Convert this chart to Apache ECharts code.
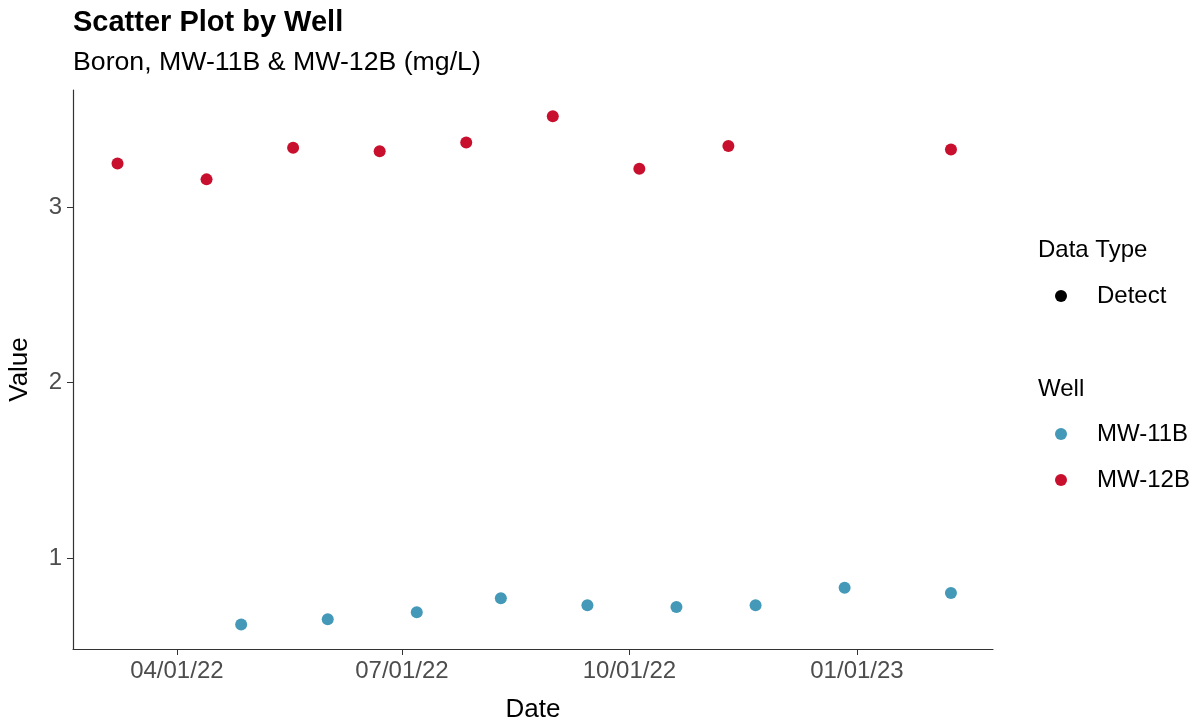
<!DOCTYPE html>
<html>
<head>
<meta charset="utf-8">
<script src="https://cdn.jsdelivr.net/npm/echarts@6/dist/echarts.min.js"></script>
<style>
html,body{margin:0;padding:0;background:#fff;}
#chart{width:1197px;height:724px;}
</style>
</head>
<body>
<div id="chart"></div>
<script>
var titleText = 'Scatter Plot by Well';
var subtitleText = 'Boron, MW-11B & MW-12B (mg/L)';
var mw11bDates = ['2022-04-27','2022-06-01','2022-07-07','2022-08-10','2022-09-14','2022-10-20','2022-11-21','2022-12-27','2023-02-08'];
var mw11bValues = [0.62,0.65,0.69,0.77,0.73,0.72,0.73,0.83,0.80];
var mw12bDates = ['2022-03-08','2022-04-13','2022-05-18','2022-06-22','2022-07-27','2022-08-31','2022-10-05','2022-11-10','2023-02-08'];
var mw12bValues = [3.25,3.16,3.34,3.32,3.37,3.52,3.22,3.35,3.33];
var xTickDates = ['2022-04-01','2022-07-01','2022-10-01','2023-01-01'];
var yTicks = [1,2,3];
var wells = ['MW-11B','MW-12B'];
var wellColors = ['#4499B8','#C8102E'];

function ts(s){ var p=s.split('-'); return Date.UTC(+p[0], +p[1]-1, +p[2]); }
function pad(n){ return (n<10?'0':'')+n; }
function fmtDate(v){ var d=new Date(v); return pad(d.getUTCMonth()+1)+'/'+pad(d.getUTCDate())+'/'+String(d.getUTCFullYear()).slice(2); }
function pairs(dates, vals){ return dates.map(function(d,i){ return [ts(d), vals[i]]; }); }

var FONT = '"Liberation Sans", Arial, sans-serif';
var chart = echarts.init(document.getElementById('chart'), null, {renderer:'canvas'});
chart.setOption({
  animation:false,
  backgroundColor:'#ffffff',
  textStyle:{fontFamily:FONT},
  title:[
    {text:titleText, left:68, top:3, textStyle:{fontFamily:FONT, fontSize:29, fontWeight:'bold', color:'#000'}},
    {text:subtitleText, left:68, top:44, textStyle:{fontFamily:FONT, fontSize:26.7, fontWeight:'normal', color:'#000'}}
  ],
  grid:{left:73, right:204, top:90, bottom:75, containLabel:false, outerBoundsMode:'none'},
  xAxis:{
    type:'value',
    min:ts('2022-02-18'), max:ts('2023-02-25'),
    name:'Date', nameLocation:'middle', nameGap:48,
    nameTextStyle:{fontFamily:FONT, fontSize:26, color:'#000'},
    axisLine:{lineStyle:{color:'#333', width:1.2}},
    axisTick:{show:true, length:6, lineStyle:{color:'#333'}, customValues:xTickDates.map(ts)},
    axisLabel:{fontFamily:FONT, fontSize:24, color:'#4D4D4D', margin:10, customValues:xTickDates.map(ts), formatter:function(v){return fmtDate(v);}},
    splitLine:{show:false}
  },
  yAxis:{
    type:'value', min:0.48, max:3.67,
    name:'Value', nameLocation:'middle', nameGap:40, nameRotate:90,
    nameTextStyle:{fontFamily:FONT, fontSize:26, color:'#000'},
    axisLine:{show:true, lineStyle:{color:'#333', width:1.2}},
    axisTick:{show:true, length:6, lineStyle:{color:'#333'}, customValues:yTicks},
    axisLabel:{fontFamily:FONT, fontSize:24, color:'#4D4D4D', margin:11, customValues:yTicks},
    splitLine:{show:false}
  },
  legend:[
    {data:[{name:'Detect', itemStyle:{color:'#000000', opacity:1}}], orient:'vertical', left:1050, top:279, itemWidth:12, itemHeight:12, itemGap:22, icon:'circle', selectedMode:false,
     textStyle:{fontFamily:FONT, fontSize:24, lineHeight:24, color:'#000', padding:[0,0,0,25]}},
    {data:wells, orient:'vertical', left:1050, top:417, itemWidth:12, itemHeight:12, itemGap:22, icon:'circle', selectedMode:false,
     textStyle:{fontFamily:FONT, fontSize:24, lineHeight:24, color:'#000', padding:[0,0,0,25]}}
  ],
  graphic:[
    {type:'text', left:1038, top:238, style:{text:'Data Type', font:'24px '+FONT, fill:'#000'}},
    {type:'text', left:1038, top:377, style:{text:'Well', font:'24px '+FONT, fill:'#000'}}
  ],
  series:[
    {name:'Detect', type:'scatter', data:[], itemStyle:{color:'#000000'}},
    {name:wells[0], type:'scatter', symbolSize:12, data:pairs(mw11bDates, mw11bValues), itemStyle:{color:wellColors[0], opacity:1}},
    {name:wells[1], type:'scatter', symbolSize:12, data:pairs(mw12bDates, mw12bValues), itemStyle:{color:wellColors[1], opacity:1}}
  ]
});
</script>
</body>
</html>
